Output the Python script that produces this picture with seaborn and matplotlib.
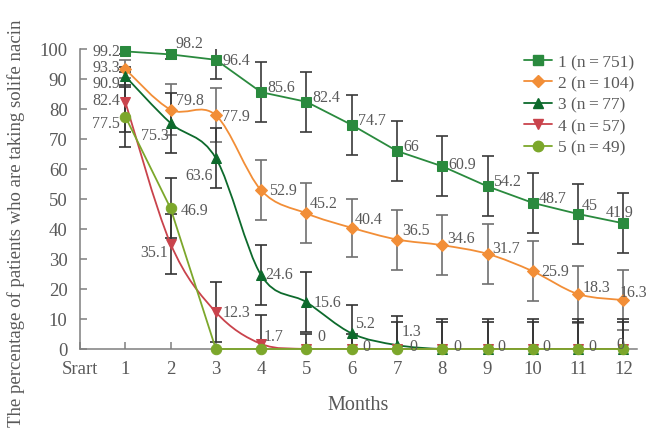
import numpy as np
import matplotlib
matplotlib.use("Agg")
import matplotlib.pyplot as plt
from matplotlib.path import Path
from matplotlib.patches import PathPatch
from matplotlib.lines import Line2D
import seaborn as sns

# ---- data -------------------------------------------------------------
months = list(range(1, 13))
tick_labels = ["Srart"] + [str(m) for m in months]
group_names = ["1 (n\u2009=\u2009751)", "2 (n\u2009=\u2009104)", "3 (n\u2009=\u200977)",
               "4 (n\u2009=\u200957)", "5 (n\u2009=\u200949)"]

g1 = [99.2, 98.2, 96.4, 85.6, 82.4, 74.7, 66, 60.9, 54.2, 48.7, 45, 41.9]
g2 = [93.3, 79.8, 77.9, 52.9, 45.2, 40.4, 36.5, 34.6, 31.7, 25.9, 18.3, 16.3]
g3 = [90.9, 75.3, 63.6, 24.6, 15.6, 5.2, 1.3, 0, 0, 0, 0, 0]
g4 = [82.4, 35.1, 12.3, 1.7, 0, 0, 0, 0, 0, 0, 0, 0]
g5 = [77.5, 46.9, 0, 0, 0, 0, 0, 0, 0, 0, 0, 0]

# error bar half-widths
e1 = [1, 1.5, 6.5, 10, 10, 10, 10, 10, 10, 10, 10, 10]
e2 = [3, 8.5, 9, 10, 10, 9.7, 10, 10, 10, 10, 9.5, 10]
e3 = [3, 10, 10, 10, 10, 9.5, 9.7, 10, 10, 10, 10, 10]
e4 = [10, 10, 10, 9.5, 5, 5, 9, 9, 9, 9, 9, 9]
e5 = [10, 10, 0, 0, 0, 0, 0, 0, 0, 0, 0, 0]

# which points carry a value label
labelled = [
    list(range(12)),
    list(range(12)),
    list(range(7)),
    list(range(12)),
    [0, 1],
]

# ---- style --------------------------------------------------------------
sns.set_theme(style="ticks")
plt.rcParams["font.family"] = ["Liberation Serif", "DejaVu Serif"]
TXT = "#595959"
AX = "#7f7f7f"

colors = ["#2a8a3e", "#f28e37", "#0d6a2c", "#c9434c", "#7ca72b"]
markers = ["s", "D", "^", "v", "o"]
msizes = [7.5, 6.5, 7.5, 7, 7.5]
smooth = [False, True, True, True, False]
ebar_colors = ["#3a3a3a", "#6f6f6f", "#333333", "#333333", "#333333"]

series = [g1, g2, g3, g4, g5]
errors = [e1, e2, e3, e4, e5]

# label offsets in pixels: (dx, dy, ha); dy positive = upward
default_off = (6, 5, "left")
label_off = {
    (0, 0): (-5, 0, "right"), (0, 1): (5, 11, "left"), (0, 2): (7, 0, "left"),
    (0, 10): (4, 9, "left"), (0, 11): (-4, 11, "center"), (0, 7): (6, 2, "left"),
    (1, 0): (-5, 2, "right"), (1, 1): (5, 10, "left"), (1, 2): (6, -1, "left"),
    (1, 3): (8, 0, "left"), (1, 4): (3, 10, "left"), (1, 5): (3, 9, "left"),
    (1, 6): (5, 9, "left"), (1, 7): (5, 7, "left"), (1, 8): (5, 6, "left"),
    (1, 9): (8, 0, "left"), (1, 10): (5, 7, "left"), (1, 11): (-4, 8, "left"),
    (2, 0): (-5, -7, "right"), (2, 1): (-2, -12, "right"), (2, 2): (-3, -17, "right"),
    (2, 3): (4, 1, "left"), (2, 4): (7, 0, "left"), (2, 5): (3, 10, "left"),
    (2, 6): (5, 14, "left"),
    (3, 0): (-5, 2, "right"), (3, 1): (-3, -8, "right"), (3, 2): (7, 0, "left"),
    (3, 3): (3, 8, "left"), (3, 4): (11, 13, "left"), (3, 5): (11, 3, "left"),
    (3, 6): (12, 3, "left"), (3, 7): (11, 3, "left"), (3, 8): (10, 3, "left"),
    (3, 9): (10, 3, "left"), (3, 10): (10, 3, "left"), (3, 11): (-3, 5, "center"),
    (4, 0): (-5, -6, "right"), (4, 1): (10, -2, "left"),
}

fig = plt.figure(figsize=(6.46, 4.35), dpi=100)
ax = fig.add_axes([80 / 646, 1 - 350 / 435, 557 / 646, 300 / 435])


def bezier_path(xs, ys):
    """Cubic Bezier through the points, control points from neighbours."""
    pts = np.column_stack([xs, ys]).astype(float)
    n = len(pts)
    verts = [pts[0]]
    codes = [Path.MOVETO]
    for i in range(n - 1):
        p0 = pts[i - 1] if i > 0 else pts[i]
        p1, p2 = pts[i], pts[i + 1]
        p3 = pts[i + 2] if i + 2 < n else pts[i + 1]
        verts += [p1 + (p2 - p0) / 6, p2 - (p3 - p1) / 6, p2]
        codes += [Path.CURVE4] * 3
    return Path(verts, codes)


# error bars (kept above zero)
for k, (vals, errs) in enumerate(zip(series, errors)):
    v = np.array(vals, float)
    e = np.array(errs, float)
    lower = np.minimum(e, v)
    mask = e > 0
    ax.errorbar(np.array(months)[mask], v[mask], yerr=[lower[mask], e[mask]],
                fmt="none", ecolor=ebar_colors[k], elinewidth=1.2,
                capsize=4, capthick=1.2, zorder=2)

# lines and markers
for k, vals in enumerate(series):
    z = 3 + k
    if smooth[k]:
        ax.add_patch(PathPatch(bezier_path(months, vals), fill=False,
                               edgecolor=colors[k], lw=1.3, zorder=z))
        sns.lineplot(x=months, y=vals, ax=ax, color=colors[k], linestyle="",
                     marker=markers[k], markersize=msizes[k],
                     markeredgecolor=colors[k], clip_on=False, zorder=z + 0.5)
    else:
        sns.lineplot(x=months, y=vals, ax=ax, color=colors[k], lw=1.3,
                     marker=markers[k], markersize=msizes[k],
                     markeredgecolor=colors[k], clip_on=False, zorder=z + 0.5)

# value labels
for k, vals in enumerate(series):
    for i in labelled[k]:
        dx, dy, ha = label_off.get((k, i), default_off)
        ax.annotate(f"{vals[i]:g}", (months[i], vals[i]),
                    xytext=(dx, dy), textcoords="offset pixels",
                    ha=ha, va="center", fontsize=11.5, color=TXT, zorder=10,
                    annotation_clip=False)

# axes
ax.set_xlim(0, 12.3)
ax.set_ylim(0, 100)
ax.set_xticks(range(0, 13))
ax.set_xticklabels(tick_labels)
ax.set_yticks(range(0, 101, 10))
ax.tick_params(axis="both", direction="in", length=5, width=1.1, color=AX,
               labelcolor=TXT, labelsize=13.5)
ax.tick_params(axis="x", pad=8)
ax.tick_params(axis="y", pad=9)
sns.despine(ax=ax)
for s in ("left", "bottom"):
    ax.spines[s].set_color(AX)
    ax.spines[s].set_linewidth(1.1)

ax.set_xlabel("Months", fontsize=14.5, color=TXT, labelpad=13)
ax.set_ylabel("")
fig.text(16 / 646, 1 - 223 / 435,
         "The percentage of patients who are taking solife nacin",
         rotation=90, ha="center", va="center", fontsize=13.5, color=TXT)

handles = [Line2D([], [], color=colors[k], marker=markers[k],
                  markersize=msizes[k], markeredgecolor=colors[k], lw=1.3)
           for k in range(5)]
leg = ax.legend(handles, group_names, loc="upper left",
                bbox_to_anchor=(524 / 646, 1 - 55 / 435),
                bbox_transform=fig.transFigure, frameon=False,
                fontsize=12.5, handlelength=1.6, handletextpad=0.35,
                labelspacing=0.3, borderaxespad=0, borderpad=0)
for t in leg.get_texts():
    t.set_color(TXT)

fig.savefig("out.png", dpi=100)
